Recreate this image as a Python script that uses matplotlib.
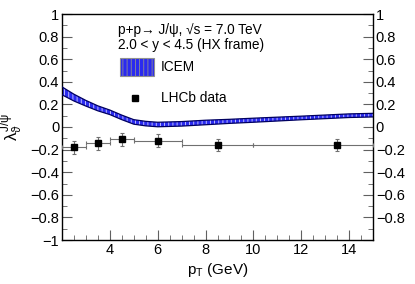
import matplotlib
matplotlib.use('Agg')

import matplotlib.pyplot as plt
import numpy as np
from matplotlib.patches import Rectangle
from matplotlib.ticker import MultipleLocator

plt.rcParams['font.family'] = ['Liberation Sans', 'DejaVu Sans']
plt.rcParams['mathtext.fontset'] = 'custom'
plt.rcParams['mathtext.rm'] = 'Liberation Sans'
plt.rcParams['mathtext.it'] = 'Liberation Sans'
plt.rcParams['hatch.linewidth'] = 0.6

# ICEM band (central value and half width)
icem_pt = [2, 2.5, 3, 3.5, 4, 4.5, 5, 5.5, 6, 7, 8, 9, 10, 11, 12, 13, 14, 15]
icem_mid = [0.32, 0.26, 0.21, 0.165, 0.13, 0.085, 0.045, 0.03, 0.022, 0.028, 0.04, 0.05, 0.06, 0.07, 0.08, 0.09, 0.10, 0.105]
icem_half = [0.035, 0.03, 0.025, 0.022, 0.02, 0.02, 0.02, 0.02, 0.02, 0.02, 0.02, 0.018, 0.018, 0.017, 0.016, 0.016, 0.016, 0.016]

# LHCb data
lhcb_pt = [2.5, 3.5, 4.5, 6.0, 8.5, 13.5]
lhcb_lo = [2, 3, 4, 5, 7, 10]
lhcb_hi = [3, 4, 5, 7, 10, 15]
lhcb_val = [-0.18, -0.145, -0.11, -0.12, -0.16, -0.16]
lhcb_err = [0.055, 0.056, 0.055, 0.055, 0.055, 0.055]

fig = plt.figure(figsize=(4.15, 2.84), dpi=100)
ax = fig.add_axes([62 / 415, 1 - 240 / 284, (373 - 62) / 415, (240 - 14) / 284])

pt = np.array(icem_pt)
mid = np.array(icem_mid)
half = np.array(icem_half)
ax.fill_between(pt, mid - half, mid + half, facecolor='#2a2af0', edgecolor='#d0d0ff',
                hatch='||||', linewidth=0, zorder=2)
ax.plot(pt, mid + half, color='#000060', lw=0.9, zorder=3)
ax.plot(pt, mid - half, color='#000060', lw=0.9, zorder=3)

x = np.array(lhcb_pt)
xerr = [x - np.array(lhcb_lo), np.array(lhcb_hi) - x]
ax.errorbar(x, lhcb_val, xerr=xerr, yerr=lhcb_err, fmt='none', ecolor='#707070',
            elinewidth=0.8, capsize=1.5, capthick=0.8, zorder=4)
ax.plot(x, lhcb_val, 's', color='black', ms=4.5, zorder=5)

ax.set_xlim(2, 15)
ax.set_ylim(-1, 1)
ax.xaxis.set_minor_locator(MultipleLocator(0.5))
ax.yaxis.set_minor_locator(MultipleLocator(0.1))
ax.tick_params(which='both', direction='in', top=False, right=True,
               labelright=True, labelsize=10.5, color='#606060', pad=2)
ax.tick_params(which='major', length=7)
ax.tick_params(which='minor', length=3.5)

def fmt(v):
    if abs(v) < 1e-9:
        return '0'
    return ('%g' % round(v, 1)).replace('-', '\u2212')

yt = np.round(np.arange(-1, 1.01, 0.2), 1)
ax.set_yticks(yt)
ax.set_yticklabels([fmt(v) for v in yt])
xt = [4, 6, 8, 10, 12, 14]
ax.set_xticks(xt)
ax.set_xticklabels([str(v) for v in xt])
# hide the -1 label on the right axis
for t in ax.yaxis.get_major_ticks():
    if abs(t.get_loc() + 1) < 1e-6:
        t.label2.set_visible(False)

for sp in ax.spines.values():
    sp.set_linewidth(1.0)

ax.set_xlabel(r'p$_{\mathrm{T}}$ (GeV)', fontsize=11)
ax.xaxis.set_label_coords(0.5, -0.095)
ax.set_ylabel(r'$\lambda_{\vartheta}^{\mathrm{J/\psi}}$', fontsize=12)
ax.yaxis.set_label_coords(-0.12, 0.5)

# legend
ax.text(0.18, 0.929, 'p+p\u2192 J/\u03c8, \u221as = 7.0 TeV', transform=ax.transAxes,
        fontsize=9.8, va='center')
ax.text(0.18, 0.863, '2.0 < y < 4.5 (HX frame)', transform=ax.transAxes,
        fontsize=9.8, va='center')
ax.add_patch(Rectangle((0.186, 0.726), 0.109, 0.08, transform=ax.transAxes,
                       facecolor='#2a2af0', edgecolor='#909090', hatch='||||', lw=0.8))
ax.text(0.318, 0.765, 'ICEM', transform=ax.transAxes, fontsize=9.8, va='center')
ax.plot([0.235], [0.628], 's', color='black', ms=4.5, transform=ax.transAxes)
ax.text(0.318, 0.628, 'LHCb data', transform=ax.transAxes, fontsize=9.8, va='center')

fig.savefig('out.png', dpi=100)
